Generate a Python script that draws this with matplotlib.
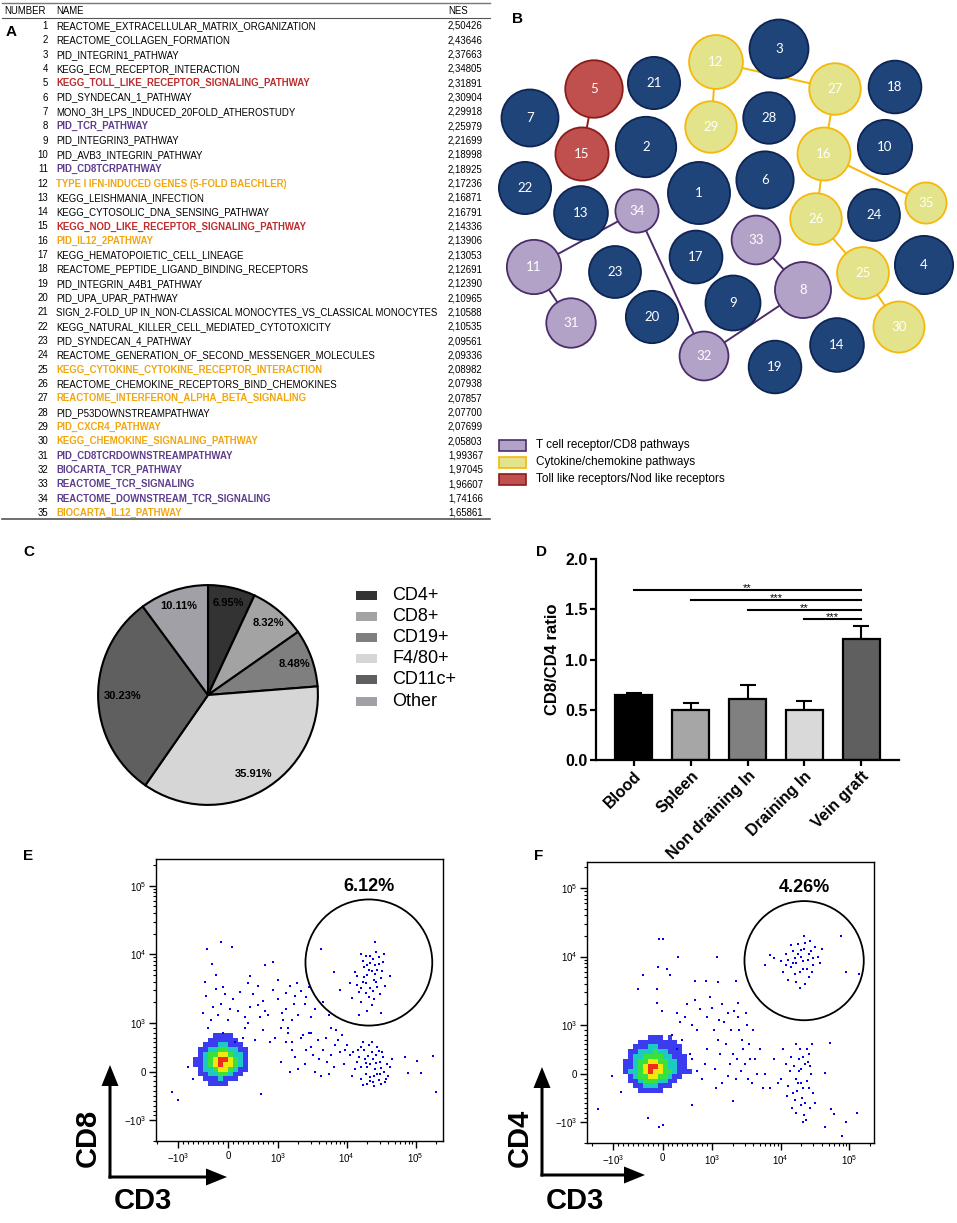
# -*- coding: utf-8 -*-
import numpy as np
import matplotlib
matplotlib.use('Agg')
import matplotlib.pyplot as plt
import matplotlib.patches as patches
from matplotlib.colors import ListedColormap, BoundaryNorm

plt.rcParams['font.family'] = ['Liberation Sans', 'DejaVu Sans']
plt.rcParams['mathtext.fontset'] = 'custom'
plt.rcParams['mathtext.rm'] = 'Liberation Sans'

W, H = 957, 1223

# ---------------- A: enriched gene sets ----------------
pathways = [
    'REACTOME_EXTRACELLULAR_MATRIX_ORGANIZATION', 'REACTOME_COLLAGEN_FORMATION',
    'PID_INTEGRIN1_PATHWAY', 'KEGG_ECM_RECEPTOR_INTERACTION',
    'KEGG_TOLL_LIKE_RECEPTOR_SIGNALING_PATHWAY', 'PID_SYNDECAN_1_PATHWAY',
    'MONO_3H_LPS_INDUCED_20FOLD_ATHEROSTUDY', 'PID_TCR_PATHWAY',
    'PID_INTEGRIN3_PATHWAY', 'PID_AVB3_INTEGRIN_PATHWAY', 'PID_CD8TCRPATHWAY',
    'TYPE I IFN-INDUCED GENES (5-FOLD BAECHLER)', 'KEGG_LEISHMANIA_INFECTION',
    'KEGG_CYTOSOLIC_DNA_SENSING_PATHWAY', 'KEGG_NOD_LIKE_RECEPTOR_SIGNALING_PATHWAY',
    'PID_IL12_2PATHWAY', 'KEGG_HEMATOPOIETIC_CELL_LINEAGE',
    'REACTOME_PEPTIDE_LIGAND_BINDING_RECEPTORS', 'PID_INTEGRIN_A4B1_PATHWAY',
    'PID_UPA_UPAR_PATHWAY',
    'SIGN_2-FOLD_UP IN_NON-CLASSICAL MONOCYTES_VS_CLASSICAL MONOCYTES',
    'KEGG_NATURAL_KILLER_CELL_MEDIATED_CYTOTOXICITY', 'PID_SYNDECAN_4_PATHWAY',
    'REACTOME_GENERATION_OF_SECOND_MESSENGER_MOLECULES',
    'KEGG_CYTOKINE_CYTOKINE_RECEPTOR_INTERACTION',
    'REACTOME_CHEMOKINE_RECEPTORS_BIND_CHEMOKINES',
    'REACTOME_INTERFERON_ALPHA_BETA_SIGNALING', 'PID_P53DOWNSTREAMPATHWAY',
    'PID_CXCR4_PATHWAY', 'KEGG_CHEMOKINE_SIGNALING_PATHWAY',
    'PID_CD8TCRDOWNSTREAMPATHWAY', 'BIOCARTA_TCR_PATHWAY', 'REACTOME_TCR_SIGNALING',
    'REACTOME_DOWNSTREAM_TCR_SIGNALING', 'BIOCARTA_IL12_PATHWAY']
nes = [2.50426, 2.43646, 2.37663, 2.34805, 2.31891, 2.30904, 2.29918, 2.25979,
       2.21699, 2.18998, 2.18925, 2.17236, 2.16871, 2.16791, 2.14336, 2.13906,
       2.13053, 2.12691, 2.12390, 2.10965, 2.10588, 2.10535, 2.09561, 2.09336,
       2.08982, 2.07938, 2.07857, 2.07700, 2.07699, 2.05803, 1.99367, 1.97045,
       1.96607, 1.74166, 1.65861]
# n = other, r = toll/nod, p = TCR/CD8, o = cytokine/chemokine
table_group = 'nnnnrnnpnn' + 'ponnronnnn' + 'nnnnononoo' + 'ppppo'

# ---------------- B: network ----------------
node_group = 'nnnnrnnpnn' + 'ponnronnnn' + 'nnnnooonoo' + 'ppppo'
node_x = [219, 166, 299, 444, 114, 285, 50, 323, 253, 405, 54, 236, 101, 357, 102,
          344, 216, 415, 295, 172, 174, 45, 135, 394, 383, 336, 355, 289, 231, 419,
          91, 224, 276, 157, 446]
node_y = [193, 147, 49, 265, 89, 180, 118, 290, 303, 147, 267, 62, 213, 345, 154,
          154, 257, 87, 367, 317, 83, 188, 272, 215, 273, 219, 89, 118, 127, 327,
          323, 356, 240, 211, 203]
links = [(5, 15), (12, 29), (12, 27), (27, 16), (16, 35), (16, 26), (26, 25), (25, 30),
         (34, 11), (34, 32), (11, 31), (33, 8), (8, 32)]
legend_b = [('p', 'T cell receptor/CD8 pathways'), ('o', 'Cytokine/chemokine pathways'),
            ('r', 'Toll like receptors/Nod like receptors')]

# ---------------- C: cell composition ----------------
cell_types = ['CD4+', 'CD8+', 'CD19+', 'F4/80+', 'CD11c+', 'Other']
cell_pct = [6.95, 8.32, 8.48, 35.91, 30.23, 10.11]

# ---------------- D: CD8/CD4 ratio ----------------
tissues = ['Blood', 'Spleen', 'Non draining In', 'Draining In', 'Vein graft']
ratio_mean = [0.65, 0.50, 0.61, 0.50, 1.20]
ratio_sem = [0.02, 0.07, 0.14, 0.09, 0.13]
signif = [(0, 4, 1.69, '**'), (1, 4, 1.59, '***'), (2, 4, 1.49, '**'), (3, 4, 1.40, '***')]

# ---------------- E / F: flow cytometry (CD3 vs CD8 / CD4) ----------------
# dense core as density levels on 100-unit bins (rows top -> bottom)
e_core_x0, e_core_ytop = -700, 800
e_core = [[0, 0, 0, 0, 1, 1, 1, 1, 0, 0, 0, 0],
          [0, 0, 0, 1, 1, 1, 1, 1, 1, 0, 0, 0],
          [0, 0, 1, 1, 1, 2, 2, 1, 1, 1, 0, 0],
          [0, 1, 1, 2, 2, 3, 3, 2, 2, 1, 1, 0],
          [0, 1, 2, 3, 3, 4, 4, 3, 2, 2, 1, 0],
          [1, 1, 2, 3, 4, 5, 5, 4, 3, 2, 1, 0],
          [1, 1, 2, 3, 4, 5, 4, 4, 3, 2, 1, 0],
          [0, 1, 2, 2, 3, 4, 4, 3, 2, 1, 1, 0],
          [0, 1, 1, 2, 2, 3, 3, 2, 1, 1, 0, 0],
          [0, 0, 1, 1, 1, 2, 1, 1, 1, 0, 0, 0],
          [0, 0, 0, 1, 1, 1, 1, 0, 0, 0, 0, 0]]
e_cd8 = [(2.0e4, 5.0e3), (2.4e4, 8.5e3), (1.7e4, 4.0e3), (2.8e4, 6.0e3), (2.2e4, 3.2e3),
         (1.5e4, 2.8e3), (3.2e4, 4.5e3), (1.9e4, 9.5e3), (2.6e4, 7.0e3), (2.1e4, 2.4e3),
         (1.3e4, 5.5e3), (3.6e4, 3.5e3), (2.3e4, 1.8e3), (1.8e4, 6.5e3), (2.9e4, 9.0e3),
         (1.6e4, 2.0e3), (2.5e4, 4.2e3), (2.0e4, 1.5e3), (3.0e4, 2.6e3), (1.4e4, 3.6e3),
         (2.7e4, 1.1e4), (2.2e4, 7.5e3), (1.7e4, 8.0e3), (3.4e4, 7.8e3), (1.2e4, 2.3e3),
         (2.4e4, 2.9e3), (1.9e4, 3.8e3), (3.1e4, 1.4e3), (2.6e4, 5.2e3), (1.5e4, 1.3e3),
         (4.2e4, 4.8e3), (8.0e3, 3.0e3), (6.5e3, 5.5e3), (2.8e4, 3.3e3), (2.1e4, 6.0e3),
         (1.6e4, 1.0e4), (3.5e4, 1.0e4), (2.6e4, 1.5e4), (2.3e4, 5.8e3), (1.8e4, 4.6e3),
         (2.7e4, 3.9e3), (2.0e4, 7.0e3), (1.6e4, 3.2e3), (3.3e4, 5.8e3), (2.2e4, 9.5e3),
         (1.4e4, 4.8e3), (2.5e4, 2.2e3), (1.9e4, 2.7e3), (2.9e4, 7.2e3), (1.1e4, 3.8e3)]
e_cd3 = [(1.5e4, 300), (2.0e4, 100), (2.5e4, -100), (3.0e4, 200), (1.8e4, 450),
         (2.2e4, -200), (3.5e4, 0), (1.3e4, 50), (2.7e4, 350), (1.6e4, -150),
         (4.0e4, -100), (2.1e4, 550), (3.2e4, -250), (1.4e4, 200), (2.4e4, 250),
         (1.9e4, -50), (2.9e4, -180), (3.8e4, 150), (1.7e4, 600), (2.3e4, 400),
         (1.1e4, 350), (2.6e4, 50), (3.3e4, 400), (1.2e4, -100), (2.0e4, -250),
         (3.6e4, -220), (4.5e4, 250), (2.8e4, 500), (1.0e4, 550), (2.2e4, 150),
         (3.1e4, 80), (1.6e4, 100), (2.5e4, -300), (1.85e4, 250), (2.75e4, -50),
         (1.45e4, 450), (2.15e4, -120), (2.65e4, 180), (3.4e4, 300), (1.75e4, -280),
         (2.35e4, 600), (3.0e4, -50), (1.25e4, 400), (2.05e4, 320), (2.95e4, 420),
         (3.7e4, -150), (1.6e4, 500), (2.45e4, -220), (4.2e4, 100), (1.9e4, 180)]
e_mid = [(1.3e3, 600), (1.8e3, 300), (2.5e3, 150), (3.0e3, 500), (4.0e3, 250),
         (5.0e3, 700), (6.5e3, 100), (8.0e3, 400), (1.5e3, 0), (2.2e3, 700),
         (3.5e3, 0), (4.5e3, 450), (6.0e3, 350), (7.5e3, 650), (9.0e3, 150),
         (2.8e3, 800), (1.1e3, 200), (5.5e3, -50), (3.2e3, 350), (7.0e3, 850),
         (1.4e3, 900), (2.0e3, 50), (3.8e3, 650), (5.2e3, 200), (6.8e3, 550),
         (8.5e3, 750), (9.5e3, 450), (2.6e3, 450), (4.2e3, -100), (1.6e3, 450),
         (-400, 900), (-200, 1300), (0, 1100), (200, 1500), (400, 1000), (600, 1800),
         (800, 1300), (1000, 2200), (1300, 1600), (1800, 2500), (2500, 1900),
         (3000, 1200), (-300, 1700), (100, 2200), (500, 2600), (900, 3000),
         (1500, 3400), (2200, 2900), (-100, 800), (300, 700), (700, 850), (1100, 900),
         (1600, 1100), (400, 3800), (-450, 2500), (2800, 3300), (1200, 1100),
         (-250, 3100), (50, 1600), (650, 1200), (150, 600), (350, 1200), (550, 650),
         (750, 1500), (950, 700), (1150, 1400), (1400, 800), (1700, 1900), (2000, 1300),
         (2300, 750), (2600, 2400), (3500, 1600), (4500, 2000), (5500, 1300),
         (-350, 1100), (-150, 1900), (250, 2800), (700, 2100), (1900, 3800),
         (1000, 4200), (-50, 2600), (450, 1700), (850, 600), (1300, 2700), (3000, 800),
         (6000, 900), (-500, 1400), (350, 900), (600, 3400), (1600, 600)]
e_out = [(-140, 1.5e4), (-420, 1.2e4), (80, 1.3e4), (-315, 7200), (750, 7000),
         (900, 7700), (4200, 1.2e4), (-245, 5000), (-470, 4000), (450, 4800),
         (-100, 3300), (-1250, -410), (-1000, -580), (670, -460), (2.0e5, -415),
         (1.8e5, 320), (1.05e5, 210), (1.2e5, -20), (7e4, 300), (7.8e4, -20),
         (-800, 100), (-700, -150)]
e_gate = (2.1e4, 7.6e3, 0.92)

f_core_x0, f_core_ytop = -800, 800
f_core = [[0, 0, 0, 0, 0, 1, 1, 1, 0, 1, 0, 0, 0, 0],
          [0, 0, 0, 1, 1, 1, 1, 1, 1, 1, 1, 0, 0, 0],
          [0, 0, 1, 1, 1, 2, 2, 1, 1, 1, 1, 1, 0, 0],
          [0, 1, 1, 2, 2, 2, 3, 2, 2, 1, 1, 1, 0, 0],
          [0, 1, 2, 2, 3, 3, 3, 3, 2, 2, 1, 1, 1, 0],
          [1, 1, 2, 3, 3, 4, 4, 3, 3, 2, 2, 1, 1, 0],
          [1, 1, 2, 3, 4, 5, 5, 4, 3, 2, 2, 1, 1, 0],
          [1, 2, 2, 3, 4, 5, 4, 4, 3, 3, 2, 1, 1, 1],
          [0, 1, 2, 3, 3, 4, 4, 3, 3, 2, 1, 1, 0, 0],
          [0, 1, 1, 2, 3, 3, 3, 2, 2, 1, 1, 0, 0, 0],
          [0, 0, 1, 1, 2, 2, 2, 1, 1, 1, 0, 0, 0, 0],
          [0, 0, 0, 1, 1, 1, 1, 1, 0, 0, 0, 0, 0, 0]]
f_cd4 = [(1.7e4, 8.0e3), (2.0e4, 1.0e4), (1.4e4, 7.0e3), (2.5e4, 9.0e3), (1.2e4, 1.1e4),
         (3.0e4, 7.5e3), (1.6e4, 5.5e3), (2.2e4, 1.3e4), (1.0e4, 8.5e3), (2.8e4, 1.2e4),
         (1.9e4, 6.0e3), (3.5e4, 1.0e4), (1.5e4, 1.2e4), (2.4e4, 6.5e3), (8.0e3, 9.5e3),
         (1.8e4, 1.5e4), (2.6e4, 5.0e3), (1.3e4, 4.5e3), (2.1e4, 8.5e3), (3.2e4, 1.4e4),
         (7.0e3, 1.05e4), (1.1e4, 6.0e3), (2.3e4, 4.0e3), (1.6e4, 9.5e3), (2.9e4, 6.0e3),
         (4.0e4, 1.3e4), (1.9e4, 3.5e3), (2.7e4, 1.7e4), (6.0e3, 7.5e3), (1.4e4, 1.45e4),
         (2.2e4, 2.0e4), (3.7e4, 8.0e3), (1.8e4, 1.1e4), (2.1e4, 6.5e3), (1.3e4, 9e3),
         (2.6e4, 1.1e4), (1.5e4, 8e3), (2.3e4, 1.6e4), (3.0e4, 9.5e3), (1.7e4, 4.2e3),
         (1.2e4, 7.5e3), (2.0e4, 1.25e4)]
f_cd3 = [(1.8e4, -200), (2.0e4, 100), (1.5e4, -400), (2.3e4, -600), (1.2e4, 200),
         (2.6e4, 400), (1.7e4, -800), (2.1e4, -300), (1.0e4, -100), (2.8e4, 0),
         (1.4e4, 350), (2.4e4, -150), (1.9e4, 500), (1.6e4, -550), (2.2e4, -850),
         (3.0e4, -400), (8.0e3, 300), (2.5e4, 250), (1.3e4, -250), (2.7e4, -700),
         (1.85e4, 50), (2.05e4, -500), (6.0e3, 0), (1.1e4, 500), (2.9e4, 600),
         (1.55e4, 150), (2.35e4, -950), (1.75e4, -350), (7.0e3, -300), (2.15e4, 350),
         (1.65e4, -100), (1.95e4, -650), (2.25e4, 200), (1.35e4, 50), (2.55e4, -300),
         (1.45e4, -700), (2.1e4, -1000), (1.85e4, 300), (2.4e4, 500), (1.25e4, -450),
         (2.7e4, 150), (1.7e4, 600), (2.0e4, -200), (9.0e3, -200), (3.2e4, -600)]
f_mid = [(300, 1500), (500, 2000), (700, 900), (900, 1300), (1200, 700), (1500, 1100),
         (2000, 400), (2500, 900), (3000, 200), (3500, 600), (4200, 300), (600, 300),
         (800, -100), (1100, 100), (1400, -200), (1800, 200), (2200, -100), (2800, 500),
         (3800, -200), (4500, 0), (400, 700), (1000, 1800), (1700, 1500), (2400, 1300),
         (3200, 1000), (650, 2300), (1300, 400), (2600, 50), (900, 500), (350, 1100),
         (200, 800), (450, 1300), (550, 400), (750, 1700), (850, 200), (1050, 900),
         (1250, 1200), (1600, 600), (1900, 900), (2100, 1600), (2700, 700), (3100, 1500),
         (3600, 300), (4000, 900), (5000, 500), (600, 1000), (950, 2600), (1400, 2000),
         (2300, 300), (300, 500), (700, 50), (1150, -300), (1700, -50), (3300, -100),
         (5500, -300)]
f_out = [(-70, 1.8e4), (0, 1.8e4), (310, 1e4), (1160, 1e4), (-100, 7e3), (85, 6.6e3),
         (150, 5.4e3), (-400, 5.4e3), (-500, 3.4e3), (-120, 3.4e3), (-120, 2.1e3),
         (-20, 1.6e3), (650, 4.4e3), (870, 4.4e3), (1200, 4.3e3), (2200, 4.4e3),
         (2400, 2.1e3), (7.6e4, 2e4), (9e4, 6e3), (1.4e5, 5.5e3), (5.3e4, 620),
         (4.4e4, 20), (5.5e4, -730), (6e4, -820), (9e4, -990), (1.3e5, -800),
         (4.4e4, -1150), (7.8e4, -1600), (-1670, -730), (-1050, -50), (-840, -380),
         (-300, -920), (-70, -1150), (10, -1100), (600, -640), (2000, -570)]
f_gate = (2.2e4, 8.7e3, 0.87)

# ---------------- styling ----------------
node_fill = {'n': '#1F4479', 'r': '#C0504D', 'p': '#B3A2C8', 'o': '#E2E38B'}
node_edge = {'n': '#0E2452', 'r': '#8C1C1C', 'p': '#4A2D6A', 'o': '#F6B80A'}
text_col = {'n': 'black', 'r': '#BE2D2D', 'p': '#5E3D8E', 'o': '#F2A60F'}
pie_cols = ['#333333', '#A3A3A3', '#7F7F7F', '#D6D6D6', '#5F5F5F', '#A0A0A6']
pie_lab_dist = [0.86, 0.86, 0.84, 0.83, 0.78, 0.85]
bar_cols = ['#000000', '#A6A6A6', '#808080', '#D9D9D9', '#5F5F5F']
dens_cmap = ListedColormap(['#3030F0', '#10C8C0', '#30E030', '#F2E600', '#F02010'])
dens_norm = BoundaryNorm([0.5, 1.5, 2.5, 3.5, 4.5, 5.5], 5)


def rect(x0, y0, x1, y1):
    return [x0 / W, 1 - y1 / H, (x1 - x0) / W, (y1 - y0) / H]


fig = plt.figure(figsize=(W / 100, H / 100), dpi=100)
ov = fig.add_axes([0, 0, 1, 1])
ov.set_xlim(0, W)
ov.set_ylim(H, 0)
ov.axis('off')
ov.set_zorder(10)

# ---- A table ----
fs = 6.9
ov.plot([2, 490], [3, 3], color='#777777', lw=1)
ov.plot([2, 490], [18, 18], color='#555555', lw=0.8)
ov.plot([2, 490], [519, 519], color='#555555', lw=1.2)
ov.text(4, 11, 'NUMBER', fontsize=fs, va='center')
ov.text(56, 11, 'NAME', fontsize=fs, va='center')
ov.text(448, 11, 'NES', fontsize=fs, va='center')
for i, (name, v, g) in enumerate(zip(pathways, nes, table_group)):
    y = 26 + i * 14.32
    ov.text(48, y, str(i + 1), fontsize=fs, ha='right', va='center')
    ov.text(56, y, name, fontsize=fs, va='center', color=text_col[g],
            fontweight='normal' if g == 'n' else 'bold')
    ov.text(448, y, ('%.5f' % v).replace('.', ','), fontsize=fs, va='center')

# ---- B network ----
axb = fig.add_axes(rect(480, 0, 957, 400))
axb.set_xlim(0, 477)
axb.set_ylim(400, 0)
axb.axis('off')
for a, b in links:
    g = node_group[a - 1]
    axb.plot([node_x[a - 1], node_x[b - 1]], [node_y[a - 1], node_y[b - 1]],
             color=node_edge[g], lw=1.4, zorder=1)
for k in range(len(nes)):
    g = node_group[k]
    axb.add_patch(patches.Circle((node_x[k], node_y[k]), 12.4 * nes[k],
                                 facecolor=node_fill[g], edgecolor=node_edge[g],
                                 lw=1.3, zorder=2))
    axb.text(node_x[k], node_y[k], str(k + 1), color='white', fontsize=9.5,
             family=['Lato', 'DejaVu Sans'], ha='center', va='center', zorder=3)
for j, (g, lab) in enumerate(legend_b):
    y = 445 + 17 * j
    ov.add_patch(patches.Rectangle((499, y - 5.5), 27, 11, facecolor=node_fill[g],
                                   edgecolor=node_edge[g], lw=1.2))
    ov.text(536, y, lab, fontsize=8.5, va='center')

# ---- C pie ----
axc = fig.add_axes(rect(97, 584, 319, 806))
wedges, _, pct_txt = axc.pie(cell_pct, colors=pie_cols, startangle=90,
                             counterclock=False,
                             wedgeprops=dict(edgecolor='black', linewidth=1.5),
                             autopct='%.2f%%',
                             textprops=dict(fontsize=8, fontweight='bold'))
for w, t, d in zip(wedges, pct_txt, pie_lab_dist):
    ang = np.deg2rad((w.theta1 + w.theta2) / 2)
    t.set_position((d * np.cos(ang), d * np.sin(ang)))
axc.set_xlim(-1.01, 1.01)
axc.set_ylim(-1.01, 1.01)
for j, (lab, col) in enumerate(zip(cell_types, pie_cols)):
    y = 595 + 21.2 * j
    ov.add_patch(patches.Rectangle((356, y - 4.5), 21, 9, facecolor=col, lw=0))
    ov.text(392, y, lab, fontsize=13, va='center')

# ---- D bars ----
axd = fig.add_axes(rect(596, 559, 899, 760))
xpos = np.arange(len(tissues))
axd.bar(xpos, ratio_mean, width=0.65, color=bar_cols, edgecolor='black',
        linewidth=1.6, zorder=2)
axd.errorbar(xpos, ratio_mean, yerr=[np.zeros(len(xpos)), ratio_sem], fmt='none',
             ecolor='black', elinewidth=1.5, capsize=5.5, capthick=1.5, zorder=1)
for i, j, y, s in signif:
    axd.plot([i, j], [y, y], color='black', lw=1.5, clip_on=False)
    axd.text((i + j) / 2, y - 0.01, s, ha='center', va='baseline', fontsize=8)
axd.set_xlim(-0.667, 4.667)
axd.set_ylim(0, 2.0)
axd.set_yticks([0, 0.5, 1.0, 1.5, 2.0], ['0.0', '0.5', '1.0', '1.5', '2.0'],
              fontweight='bold', fontsize=11.5)
axd.set_xticks(xpos, tissues, rotation=45, ha='right', rotation_mode='anchor',
              fontweight='bold', fontsize=11.5)
axd.set_ylabel('CD8/CD4 ratio', fontweight='bold', fontsize=12, labelpad=4)
for side in ('top', 'right'):
    axd.spines[side].set_visible(False)
for side in ('left', 'bottom'):
    axd.spines[side].set_linewidth(1.6)
axd.tick_params(direction='out', length=4, width=1.6, pad=2)

# ---- E / F flow ----
maj = [-1e3, 0, 1e3, 1e4, 1e5]
maj_lab = [r'$\mathregular{-10^3}$', '0', r'$\mathregular{10^3}$',
           r'$\mathregular{10^4}$', r'$\mathregular{10^5}$']
minor = ([-2e3] + list(range(-900, 0, 100)) + list(range(100, 1000, 100)) +
         [k * 10 ** e for e in (3, 4) for k in range(2, 10)] + [2e5])


def flow(r, core, cx0, cytop, pops, gate, pct, xl, yl):
    ax = fig.add_axes(rect(*r))
    ax.set_xscale('symlog', linthresh=1e3, linscale=0.65)
    ax.set_yscale('symlog', linthresh=1e3, linscale=0.64)
    ax.set_xlim(*xl)
    ax.set_ylim(*yl)
    core = np.array(core)
    xe = cx0 + 100 * np.arange(core.shape[1] + 1)
    ye = cytop - 100 * np.arange(core.shape[0] + 1)
    ax.pcolormesh(xe, ye, np.ma.masked_equal(core, 0), cmap=dens_cmap,
                  norm=dens_norm, alpha=0.95)
    for pts in pops:
        px, py = zip(*pts)
        ax.scatter(px, py, s=3, marker='s', c='#0000F0', linewidths=0)
    for axis in (ax.xaxis, ax.yaxis):
        axis.set_ticks(maj, maj_lab)
        axis.set_ticks(minor, minor=True)
    ax.tick_params(which='both', direction='out', top=False, right=False,
                   labelsize=7, pad=2)
    ax.tick_params(which='major', length=5, width=1)
    ax.tick_params(which='minor', length=2.5, width=0.8)
    for sp in ax.spines.values():
        sp.set_linewidth(1)
    gx, gy, gr = gate
    inv = ax.transAxes.inverted()
    c = inv.transform(ax.transData.transform((gx, gy)))
    ex = inv.transform(ax.transData.transform((gx * 10 ** gr, gy)))
    ey = inv.transform(ax.transData.transform((gx, gy * 10 ** gr)))
    ax.add_patch(patches.Ellipse(c, 2 * (ex[0] - c[0]), 2 * (ey[1] - c[1]),
                                 transform=ax.transAxes, fill=False,
                                 edgecolor='black', lw=1.3))
    ax.text(c[0], ey[1] + 0.047, pct, transform=ax.transAxes, ha='center',
            va='center', fontsize=13, fontweight='bold')
    return ax


flow((156, 859, 443, 1141), e_core, e_core_x0, e_core_ytop,
     [e_mid, e_cd3, e_cd8, e_out], e_gate, '6.12%', (-2100, 2.5e5), (-1860, 2.46e5))
flow((587, 862, 874, 1143), f_core, f_core_x0, f_core_ytop,
     [f_mid, f_cd3, f_cd4, f_out], f_gate, '4.26%', (-2400, 2.3e5), (-1860, 2.4e5))

# axis arrows and marker names
for x0, y0, x1, y1, ylab, xlab in [(110, 1177, 227, 1065, 'CD8', 'CD3'),
                                   (542, 1175, 645, 1067, 'CD4', 'CD3')]:
    ov.add_patch(patches.FancyArrow(x0, y0 + 1.5, 0, y1 - y0 - 1.5, width=3,
                                    head_width=17, head_length=21,
                                    length_includes_head=True, color='black', lw=0))
    ov.add_patch(patches.FancyArrow(x0 - 1.5, y0, x1 - x0 + 1.5, 0, width=3,
                                    head_width=17, head_length=21,
                                    length_includes_head=True, color='black', lw=0))
    ov.text(x0 - 22, 1138, ylab, rotation=90, fontsize=21, fontweight='bold',
            ha='center', va='center')
    ov.text(x0 + 33, 1201, xlab, fontsize=21, fontweight='bold',
            ha='center', va='center')

# panel letters
for lab, x, y in [('A', 6, 32), ('B', 512, 19), ('C', 23, 552), ('D', 536, 552),
                  ('E', 23, 856), ('F', 534, 856)]:
    ov.text(x, y, lab, fontsize=11, fontweight='bold', va='center')

fig.savefig('out.png', dpi=100)
